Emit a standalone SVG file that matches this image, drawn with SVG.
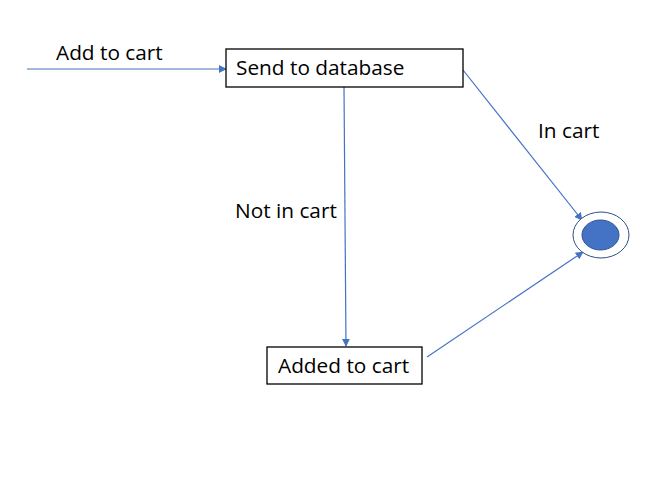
<svg xmlns="http://www.w3.org/2000/svg" width="671" height="483" viewBox="0 0 671 483">
<style>
.box{fill:#fff;stroke:#000;stroke-width:1.3}
.lbl{font-family:"Open Sans","Liberation Sans",sans-serif;font-size:20.8px;fill:#000}
.edge{stroke:#4472c4;stroke-width:1.2;fill:none;marker-end:url(#ah)}
</style>
<defs>
<marker id="ah" viewBox="0 0 10 10" refX="9" refY="5" markerWidth="8" markerHeight="8" markerUnits="userSpaceOnUse" orient="auto">
<path d="M0,0 L10,5 L0,10 Z" fill="#4472c4"/>
</marker>
</defs>
<rect width="671" height="483" fill="#fff"/>
<g id="connectors">
<line class="edge" x1="27" y1="69" x2="226" y2="69"/>
<line class="edge" x1="344" y1="87" x2="346" y2="346"/>
<line class="edge" x1="463" y1="70" x2="582" y2="220"/>
<line class="edge" x1="427" y1="357" x2="583" y2="252"/>
<text class="lbl" x="56" y="60">Add to cart</text>
<text class="lbl" x="235" y="218">Not in cart</text>
<text class="lbl" x="538" y="138">In cart</text>
</g>
<g id="send">
<rect class="box" x="226" y="49" width="237" height="38"/>
<text class="lbl" x="236" y="75">Send to database</text>
</g>
<g id="added">
<rect class="box" x="267" y="347" width="155" height="37"/>
<text class="lbl" x="278" y="373">Added to cart</text>
</g>
<g id="final">
<ellipse cx="601" cy="235" rx="28" ry="23" fill="#fff" stroke="#2f4f7f" stroke-width="1"/>
<ellipse cx="600.5" cy="235" rx="18.5" ry="15" fill="#4472c4" stroke="#2f528f" stroke-width="1"/>
</g>
</svg>
